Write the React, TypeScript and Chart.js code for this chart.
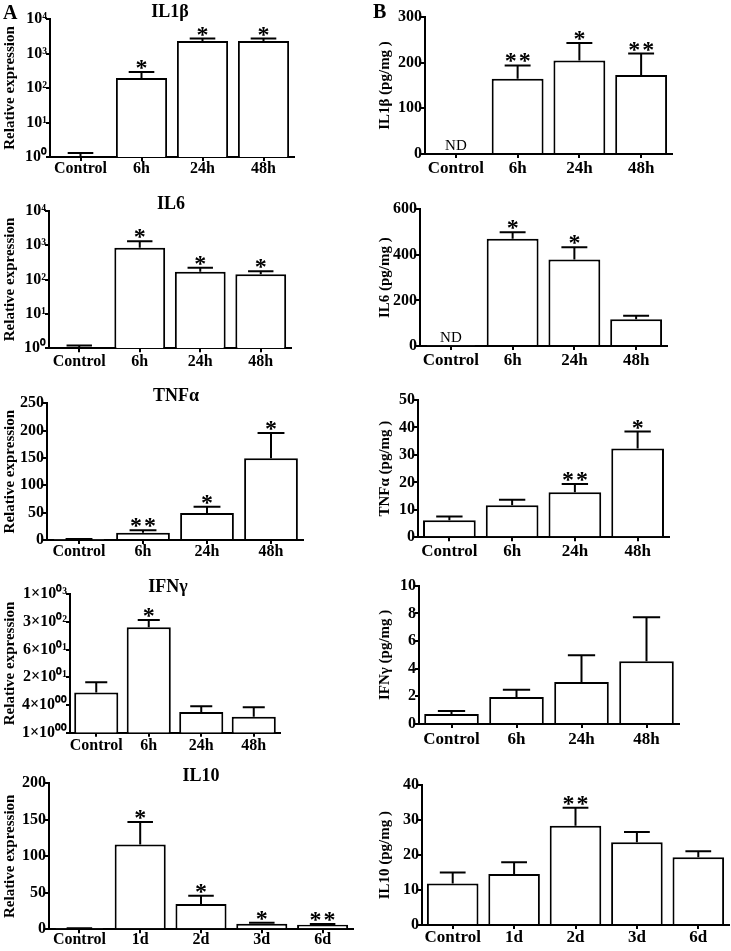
import React, { useEffect, useRef } from "react";
import { Chart, registerables } from "chart.js";

Chart.register(...registerables);

const SERIF = '"Liberation Serif", "Times New Roman", Times, serif';

// ---- categories ----
const hourLabels = ["Control", "6h", "24h", "48h"];
const dayLabels = ["Control", "1d", "2d", "3d", "6d"];

// ---- A: relative expression (mean, upper SEM, significance) ----
const il1bRelMean = [1, 195, 2300, 2300];
const il1bRelSem = [0.3, 95, 400, 400];
const il1bRelSig = ["", "*", "*", "*"];

const il6RelMean = [1, 835, 168, 142];
const il6RelSem = [0.2, 455, 52, 31];
const il6RelSig = ["", "*", "*", "*"];

const tnfRelMean = [1, 13.4, 49.4, 149.4];
const tnfRelSem = [1, 4.3, 11.6, 46.3];
const tnfRelSig = ["", "**", "*", "*"];

const ifngRelMean = [7.4, 193, 2.81, 2.22];
const ifngRelSem = [5.0, 86, 0.93, 1.34];
const ifngRelSig = ["", "*", "", ""];

const il10RelMean = [1, 116, 34.7, 7.7, 6.3];
const il10RelSem = [0.5, 31, 11.3, 1.3, 1.0];
const il10RelSig = ["", "*", "*", "*", "**"];

// ---- B: protein (pg/mg) ----
const il1bProtMean = [0, 165, 205, 173];
const il1bProtSem = [0, 29, 38, 47];
const il1bProtSig = ["", "**", "*", "**"];

const il6ProtMean = [3, 471, 380, 117];
const il6ProtSem = [0, 28, 53, 16];
const il6ProtSig = ["", "*", "*", ""];

const tnfProtMean = [6.2, 11.65, 16.4, 32.3];
const tnfProtSem = [1.4, 2.05, 3.0, 6.2];
const tnfProtSig = ["", "", "**", "*"];

const ifngProtMean = [0.72, 1.95, 3.04, 4.53];
const ifngProtSem = [0.22, 0.53, 1.93, 3.18];
const ifngProtSig = ["", "", "", ""];

const il10ProtMean = [11.9, 14.6, 28.4, 23.7, 19.4];
const il10ProtSem = [3.1, 3.4, 5.2, 2.9, 1.7];
const il10ProtSig = ["", "", "**", "", ""];

// ---- tick values / labels ----
const decadeTicks = [1, 10, 100, 1000, 10000];
const decadeTickLabels = ["10⁰", "10¹", "10²", "10³", "10⁴"];
const ifngTicks = [1, 3.981, 15.85, 63.1, 251.2, 1000];
const ifngTickLabels = ["1×10⁰⁰", "4×10⁰⁰", "2×10⁰¹", "6×10⁰¹", "3×10⁰²", "1×10⁰³"];

type Panel = {
  side: "A" | "B";
  labels: string[];
  mean: number[];
  sem: number[];
  sig: string[];
  nd?: boolean;
  title?: string;
  titleX?: number;
  yTitle: string;
  yType: "linear" | "logarithmic";
  yMin: number;
  yMax: number;
  yStep?: number;
  tickValues?: number[];
  tickLabels?: string[];
  letter?: string;
  letterPos?: [number, number];
  plot: [number, number, number, number];
  xPad: number;
};

const panels: Panel[] = [
  {
    side: "A", labels: hourLabels, mean: il1bRelMean, sem: il1bRelSem, sig: il1bRelSig,
    title: "IL1β", titleX: 170, yTitle: "Relative expression", yType: "logarithmic",
    yMin: 1, yMax: 10000, tickValues: decadeTicks, tickLabels: decadeTickLabels,
    letter: "A", letterPos: [3, 19], plot: [50, 19, 294, 157], xPad: -2,
  },
  {
    side: "A", labels: hourLabels, mean: il6RelMean, sem: il6RelSem, sig: il6RelSig,
    title: "IL6", titleX: 171, yTitle: "Relative expression", yType: "logarithmic",
    yMin: 1, yMax: 10000, tickValues: decadeTicks, tickLabels: decadeTickLabels,
    plot: [49, 210.7, 291, 348.3], xPad: 0,
  },
  {
    side: "A", labels: hourLabels, mean: tnfRelMean, sem: tnfRelSem, sig: tnfRelSig,
    title: "TNFα", titleX: 176, yTitle: "Relative expression", yType: "linear",
    yMin: 0, yMax: 250, yStep: 50, plot: [47, 403.3, 303, 540], xPad: -2,
  },
  {
    side: "A", labels: hourLabels, mean: ifngRelMean, sem: ifngRelSem, sig: ifngRelSig,
    title: "IFNγ", titleX: 168, yTitle: "Relative expression", yType: "logarithmic",
    yMin: 1, yMax: 1000, tickValues: ifngTicks, tickLabels: ifngTickLabels,
    plot: [70, 594.3, 280, 732.7], xPad: 0,
  },
  {
    side: "A", labels: dayLabels, mean: il10RelMean, sem: il10RelSem, sig: il10RelSig,
    title: "IL10", titleX: 201, yTitle: "Relative expression", yType: "linear",
    yMin: 0, yMax: 200, yStep: 50, plot: [49, 783.3, 353, 929.3], xPad: -3,
  },
  {
    side: "B", labels: hourLabels, mean: il1bProtMean, sem: il1bProtSem, sig: il1bProtSig,
    nd: true, yTitle: "IL1β (pg/mg )", yType: "linear", yMin: 0, yMax: 300, yStep: 100,
    letter: "B", letterPos: [373, 18], plot: [425, 17, 672, 154], xPad: 0,
  },
  {
    side: "B", labels: hourLabels, mean: il6ProtMean, sem: il6ProtSem, sig: il6ProtSig,
    nd: true, yTitle: "IL6 (pg/mg )", yType: "linear", yMin: 0, yMax: 600, yStep: 200,
    plot: [420, 209.3, 667, 346], xPad: 0,
  },
  {
    side: "B", labels: hourLabels, mean: tnfProtMean, sem: tnfProtSem, sig: tnfProtSig,
    yTitle: "TNFα (pg/mg )", yType: "linear", yMin: 0, yMax: 50, yStep: 10,
    plot: [418, 400, 669, 537.3], xPad: 0,
  },
  {
    side: "B", labels: hourLabels, mean: ifngProtMean, sem: ifngProtSem, sig: ifngProtSig,
    yTitle: "IFNγ (pg/mg )", yType: "linear", yMin: 0, yMax: 10, yStep: 2,
    plot: [419, 585.7, 679, 724], xPad: 1,
  },
  {
    side: "B", labels: dayLabels, mean: il10ProtMean, sem: il10ProtSem, sig: il10ProtSig,
    yTitle: "IL10 (pg/mg )", yType: "linear", yMin: 0, yMax: 40, yStep: 10,
    plot: [422, 785.3, 729, 925], xPad: -2,
  },
];

function makeAnnot(p: Panel, cl: number, ct: number) {
  return {
    id: "annot",
    afterDatasetsDraw(chart: any) {
      const ctx = chart.ctx as CanvasRenderingContext2D;
      const ys = chart.scales.y;
      const meta = chart.getDatasetMeta(0);
      const area = chart.chartArea;
      ctx.save();
      ctx.strokeStyle = "#000";
      ctx.fillStyle = "#000";
      ctx.lineWidth = 2;
      meta.data.forEach((bar: any, i: number) => {
        const x = bar.x;
        const bw = bar.width;
        const m = p.mean[i];
        const s = p.sem[i];
        const yTop = ys.getPixelForValue(m);
        let yCap = yTop;
        if (s > 0) {
          yCap = ys.getPixelForValue(m + s);
          ctx.beginPath();
          ctx.moveTo(x, yTop);
          ctx.lineTo(x, yCap);
          ctx.moveTo(x - bw / 4, yCap);
          ctx.lineTo(x + bw / 4, yCap);
          ctx.stroke();
        }
        const sg = p.sig[i];
        if (sg) {
          ctx.font = `bold 24px ${SERIF}`;
          ctx.textAlign = "center";
          ctx.textBaseline = "alphabetic";
          const tm = ctx.measureText("*");
          const base = yCap - 3 - tm.actualBoundingBoxDescent;
          const n = sg.length;
          const gap = 14;
          for (let k = 0; k < n; k++) {
            ctx.fillText("*", x + (k - (n - 1) / 2) * gap, base);
          }
        }
      });
      if (p.nd) {
        ctx.font = `15px ${SERIF}`;
        ctx.textAlign = "center";
        ctx.textBaseline = "alphabetic";
        ctx.fillText("ND", meta.data[0].x, area.bottom - 4);
      }
      if (p.title) {
        ctx.font = `bold 18px ${SERIF}`;
        ctx.textAlign = "center";
        ctx.textBaseline = "alphabetic";
        const tx = p.titleX !== undefined ? p.titleX - cl : (area.left + area.right) / 2;
        ctx.fillText(p.title, tx, area.top - 2);
      }
      if (p.letter && p.letterPos) {
        ctx.font = `bold 20px ${SERIF}`;
        ctx.textAlign = "left";
        ctx.textBaseline = "alphabetic";
        ctx.fillText(p.letter, p.letterPos[0] - cl, p.letterPos[1] - ct);
      }
      ctx.restore();
    },
  };
}

function PanelChart({ p }: { p: Panel }) {
  const ref = useRef<HTMLCanvasElement>(null);
  const [pl, pt, pr, pb] = p.plot;
  const cl = p.side === "A" ? 0 : 370;
  const cr = p.side === "A" ? pr + 12 : 731;
  const ct = Math.max(0, Math.floor(pt - 30));
  const cb = Math.ceil(pb + 30);
  const w = cr - cl;
  const h = cb - ct;

  useEffect(() => {
    const canvas = ref.current;
    if (!canvas) return;
    const xFont = p.side === "A" ? 16 : 17;
    const yScale: any = {
      type: p.yType,
      min: p.yMin,
      max: p.yMax,
      afterFit: (s: any) => {
        s.width = pl - cl;
      },
      ticks: {
        color: "#000",
        font: { family: SERIF, size: 16, weight: "bold" },
        padding: -1,
        autoSkip: false,
        callback: (v: any, i: number) => (p.tickLabels ? p.tickLabels[i] : String(v)),
      },
      grid: {
        display: true,
        drawOnChartArea: false,
        drawTicks: true,
        tickLength: 4,
        color: "#000",
        lineWidth: 2,
      },
      border: { display: true, color: "#000", width: 2 },
      title: {
        display: true,
        text: p.yTitle,
        color: "#000",
        font: { family: SERIF, size: 15, weight: "bold" },
        padding: { top: p.side === "A" ? 1 : 6, bottom: 0 },
      },
    };
    if (p.yStep) yScale.ticks.stepSize = p.yStep;
    if (p.tickValues) {
      const tv = p.tickValues;
      yScale.afterBuildTicks = (s: any) => {
        s.ticks = tv.map((v) => ({ value: v }));
      };
    }

    const chart = new Chart(canvas, {
      type: "bar",
      data: {
        labels: p.labels,
        datasets: [
          {
            data: p.mean,
            backgroundColor: "#fff",
            borderColor: "#000",
            borderWidth: 2,
            barPercentage: 0.84,
            categoryPercentage: 1,
          },
        ],
      },
      options: {
        responsive: false,
        animation: false,
        devicePixelRatio: 1,
        events: [],
        layout: { padding: { left: 0, top: pt - ct, right: cr - pr, bottom: 0 } },
        plugins: {
          legend: { display: false },
          tooltip: { enabled: false },
          title: { display: false },
        },
        scales: {
          x: {
            type: "category",
            offset: true,
            afterFit: (s: any) => {
              s.height = cb - pb;
            },
            ticks: {
              color: "#000",
              font: { family: SERIF, size: xFont, weight: "bold" },
              padding: p.xPad,
              autoSkip: false,
              maxRotation: 0,
              minRotation: 0,
            },
            grid: {
              display: true,
              drawOnChartArea: false,
              drawTicks: true,
              tickLength: 4,
              color: "#000",
              lineWidth: 2,
              offset: false,
            },
            border: { display: true, color: "#000", width: 2 },
          } as any,
          y: yScale,
        },
      } as any,
      plugins: [makeAnnot(p, cl, ct) as any],
    });
    return () => chart.destroy();
  }, []);

  return (
    <canvas
      ref={ref}
      width={w}
      height={h}
      style={{ position: "absolute", left: cl, top: ct, width: w, height: h }}
    />
  );
}

export default function App() {
  return (
    <div
      style={{
        position: "absolute",
        left: 0,
        top: 0,
        width: 731,
        height: 951,
        background: "#fff",
        overflow: "hidden",
      }}
    >
      {panels.map((p, i) => (
        <PanelChart key={i} p={p} />
      ))}
    </div>
  );
}
